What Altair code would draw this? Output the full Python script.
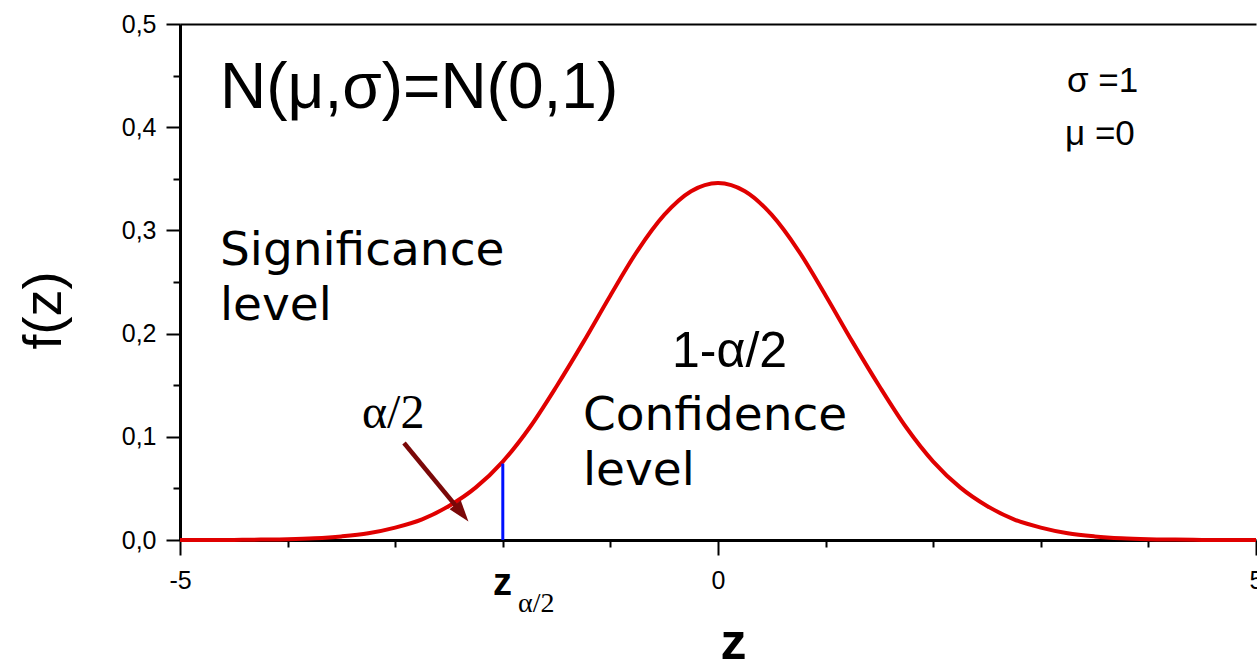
import altair as alt
import pandas as pd

# Density curve f(z), sampled every 0.25
z_values = [-5.0, -4.75, -4.5, -4.25, -4.0, -3.75, -3.5, -3.25, -3.0, -2.75,
            -2.5, -2.25, -2.0, -1.75, -1.5, -1.25, -1.0, -0.75, -0.5, -0.25,
            0.0, 0.25, 0.5, 0.75, 1.0, 1.25, 1.5, 1.75, 2.0, 2.25,
            2.5, 2.75, 3.0, 3.25, 3.5, 3.75, 4.0, 4.25, 4.5, 4.75, 5.0]
f_values = [0.0, 0.0, 0.0001, 0.0004, 0.0008, 0.0017, 0.0035, 0.0065, 0.012, 0.020,
            0.033, 0.051, 0.076, 0.109, 0.149, 0.192, 0.237, 0.280, 0.315, 0.338,
            0.346, 0.338, 0.315, 0.280, 0.237, 0.192, 0.149, 0.109, 0.076, 0.051,
            0.033, 0.020, 0.012, 0.0065, 0.0035, 0.0017, 0.0008, 0.0004, 0.0001, 0.0, 0.0]

# Critical value z_(alpha/2)
critical_z = [-2.0]
critical_f_top = [0.074]

# Arrow pointing at the left tail
arrow_z = [-2.918, -2.388]
arrow_f = [0.094, 0.027]

x_ticks = [-5, -4, -3, -2, -1, 0, 1, 2, 3, 4, 5]
y_ticks = [0.0, 0.05, 0.1, 0.15, 0.2, 0.25, 0.3, 0.35, 0.4, 0.45, 0.5]

SANS = "Liberation Sans"
SERIF = "Liberation Serif"

x_scale = alt.Scale(domain=[-5, 5], nice=False, zero=False)
y_scale = alt.Scale(domain=[0, 0.5], nice=False, zero=False)

curve_df = pd.DataFrame({"z": z_values, "f": f_values})

x_axis = alt.Axis(
    values=x_ticks,
    title="z",
    titleFont=SANS, titleFontSize=52, titleFontWeight="bold", titleColor="black",
    titleX=553, titleY=118, titleBaseline="alphabetic", titleAlign="center",
    labelExpr="datum.value % 5 === 0 ? replace(datum.label, '\u2212', '-') : ''",
    labelFont=SANS, labelFontSize=25, labelColor="black",
    labelFlush=False, labelOverlap=False, labelPadding=13,
    tickSize={"condition": {"test": "datum.value % 5 === 0", "value": 15}, "value": 7},
    tickColor="black", tickWidth=2,
    domainColor="black", domainWidth=3, grid=False,
)

is_major_y = "abs(datum.value * 10 - round(datum.value * 10)) < 0.001"
y_axis = alt.Axis(
    values=y_ticks,
    title="f(z)",
    titleFont=SANS, titleFontSize=54, titleFontWeight="normal", titleColor="black",
    titleX=-120, titleY=286, titleAngle=270, titleBaseline="alphabetic", titleAlign="center",
    labelExpr=is_major_y + " ? replace(format(datum.value, '.1f'), '.', ',') : ''",
    labelFont=SANS, labelFontSize=25, labelColor="black",
    labelFlush=False, labelOverlap=False, labelPadding=10,
    tickSize={"condition": {"test": is_major_y, "value": 14}, "value": 7},
    tickColor="black", tickWidth=2,
    domainColor="black", domainWidth=3, grid=False,
)

curve = alt.Chart(curve_df).mark_line(
    color="#e00000", strokeWidth=4, interpolate="monotone"
).encode(
    x=alt.X("z:Q", scale=x_scale, axis=x_axis),
    y=alt.Y("f:Q", scale=y_scale, axis=y_axis),
)

# Top frame line
frame_top = alt.Chart(curve_df).mark_line(opacity=0).encode(
    x=alt.X("z:Q", scale=x_scale,
            axis=alt.Axis(orient="top", labels=False, ticks=False, title=None,
                          domainColor="black", domainWidth=2, grid=False)),
    y=alt.Y("f:Q", scale=y_scale, axis=None),
)

XN = alt.X("z:Q", axis=None)
YN = alt.Y("f:Q", axis=None)

crit_df = pd.DataFrame({"z": critical_z, "f0": [0.0], "f1": critical_f_top})
critical = alt.Chart(crit_df).mark_rule(color="#0010ff", strokeWidth=3).encode(
    x=XN, y=alt.Y("f0:Q", axis=None), y2="f1:Q"
)

arrow_df = pd.DataFrame({"z": [arrow_z[0]], "f": [arrow_f[0]], "z2": [arrow_z[1]], "f2": [arrow_f[1]]})
arrow_shaft = alt.Chart(arrow_df).mark_rule(color="#7a0808", strokeWidth=4.5).encode(
    x=XN, y=YN, x2="z2:Q", y2="f2:Q"
)
arrow_head = alt.Chart(pd.DataFrame({"z": [arrow_z[1]], "f": [arrow_f[1]]})).mark_point(
    shape="M0,-1L0.6,0.8L-0.6,0.8Z", filled=True, opacity=1,
    color="#7a0808", size=560, angle=141.5,
).encode(x=XN, y=YN)


def text_layer(texts, zs, fs, **style):
    df = pd.DataFrame({"t": texts, "z": zs, "f": fs})
    return alt.Chart(df).mark_text(
        align="left", baseline="alphabetic", color="black", **style
    ).encode(x=XN, y=YN, text="t:N")


title_text = text_layer(["N(μ,σ)=N(0,1)"], [-4.628], [0.4186], font=SANS, fontSize=64)
params_text = text_layer(["σ =1", "μ =0"], [3.243, 3.225], [0.4345, 0.3825], font=SANS, fontSize=35)
level_text = text_layer(
    ["Significance", "level", "Confidence", "level"],
    [-4.628, -4.628, -1.255, -1.255],
    [0.2665, 0.2132, 0.1066, 0.0533],
    font="DejaVu Sans", fontSize=47,
)
conf_text = text_layer(["1-α/2"], [-0.427], [0.1676], font=SANS, fontSize=50)
alpha_text = text_layer(["α/2"], [-3.309], [0.1085], font=SERIF, fontSize=48)
zcrit_text = text_layer(["z"], [-2.091], [-0.0533], font=SANS, fontSize=38, fontWeight="bold")
zsub_text = text_layer(["α/2"], [-1.859], [-0.0698], font=SERIF, fontSize=28)

chart = alt.layer(
    curve, frame_top, critical, arrow_shaft, arrow_head,
    title_text, params_text, level_text, conf_text, alpha_text, zcrit_text, zsub_text,
).resolve_axis(x="independent", y="independent").properties(
    width=1076, height=516,
    autosize=alt.AutoSizeParams(type="none"),
    padding={"left": 180, "top": 24, "right": 1, "bottom": 123},
    background="white",
).configure_view(stroke=None).configure_axis(
    labelFont=SANS, labelFontSize=25, labelColor="black"
)

chart.save("out.html", embed_options={"renderer": "svg", "actions": False})
